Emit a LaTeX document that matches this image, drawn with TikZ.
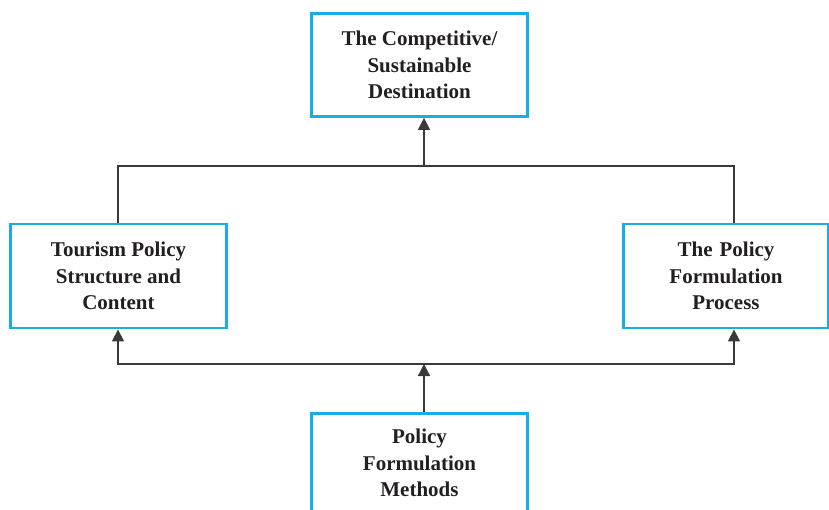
\documentclass[tikz,border=0pt]{standalone}
\usepackage{fontspec}
\setmainfont{Liberation Serif}
\usetikzlibrary{arrows.meta}
\definecolor{boxblue}{HTML}{1AACE6}
\definecolor{linegray}{HTML}{3A3A3A}
\definecolor{txt}{HTML}{231F20}
\begin{document}
\begin{tikzpicture}[x=1pt,y=-1pt,
  lbl/.style={text=txt,align=center,font=\fontsize{21}{26.5}\selectfont\bfseries},
  box/.style={lbl,draw=boxblue,line width=2.8pt,fill=white,inner sep=0pt},
  conn/.style={draw=linegray,line width=1.3pt},
  arr/.style={conn,-{Triangle[length=12pt,width=12pt]}}]
\useasboundingbox (0,0) rectangle (829,510);
\node[box,minimum width=216pt,minimum height=103pt] (top) at (419.5,65) {The Competitive/\\Sustainable\\Destination};
\node[box,minimum width=216pt,minimum height=104pt] (left) at (118.5,276) {Tourism Policy\\Structure and\\Content};
\node[box,minimum width=205pt,minimum height=104pt,text width=205pt] (right) at (726,276) {The Policy\\Formulation\\Process};
\node[box,minimum width=216pt,minimum height=110pt,anchor=north] (bot) at (419.5,412) {};
\node[lbl] (bottxt) at (419.5,463) {Policy\\Formulation\\Methods};
\coordinate (jt) at (424,166);
\coordinate (jb) at (424,364);
\draw[conn] (left.north -| 118,0) |- (jt) -| (right.north -| 734,0);
\draw[arr] (jt) -- (top.south -| jt);
\draw[arr] (jb) -| (left.south -| 118,0);
\draw[arr] (jb) -| (right.south -| 734,0);
\draw[arr] (bot.north -| jb) -- (jb);
\end{tikzpicture}
\end{document}
